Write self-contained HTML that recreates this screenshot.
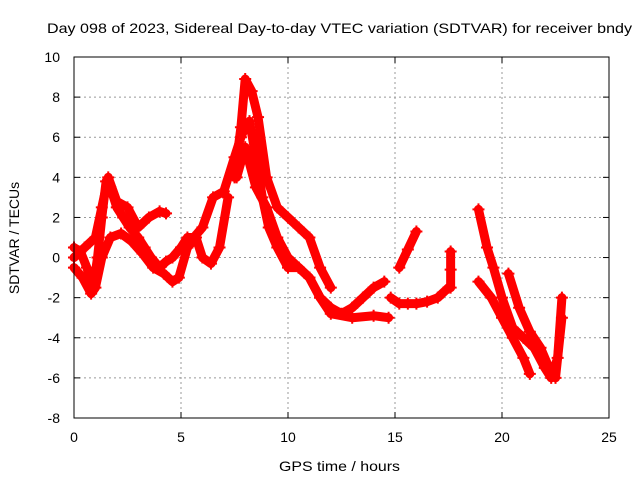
<!DOCTYPE html>
<html><head><meta charset="utf-8"><style>
body{margin:0;background:#fff}
svg{display:block;font-family:"Liberation Sans",sans-serif;font-size:14px}
</style></head><body>
<svg id="c" width="640" height="480">
<text x="47" y="33" textLength="585" lengthAdjust="spacingAndGlyphs">Day 098 of 2023, Sidereal Day-to-day VTEC variation (SDTVAR) for receiver bndy</text>
<text x="279" y="471" textLength="121" lengthAdjust="spacingAndGlyphs">GPS time / hours</text>
<text transform="translate(19,238) rotate(-90)" text-anchor="middle">SDTVAR / TECUs</text>
<g id="grid"></g>
<g id="series"></g>
<rect x="74" y="57" width="535" height="361" fill="none" stroke="#000"/>
</svg>
<script>
const xTicks=[0,5,10,15,20,25];
const yTicks=[-8,-6,-4,-2,0,2,4,6,8,10];
const trackMainX=[0,0.3,0.6,0.9,1.1,1.3,1.5,1.7,2.0,2.3,2.6,3,3.3,3.6,4,4.3,4.6,5,5.3,5.6,6,6.5,7,7.5,7.8,8,8.2,8.5,8.8,9.1,9.5,10,10.5,11,11.5,12,12.5,13,13.5,14,14.5];
const trackMainY=[0.5,0.3,-0.5,-1.5,0,2,3.8,3.5,2.5,2,1.5,1,0.5,0,-0.5,-0.2,0,0.5,1,1,1.5,3,3.3,5,6,6.5,6.8,5,3,1.5,0.5,-0.5,-0.5,-1,-2,-2.5,-2.8,-2.5,-2,-1.5,-1.2];
const trackUpX=[0,0.5,1,1.3,1.6,2,2.5,3,3.5,4,4.3];
const trackUpY=[0,0.5,1,2.5,4,2.8,2.5,1.5,2,2.3,2.2];
const trackLowX=[0,0.4,0.8,1.0,1.3,1.7,2.2,2.7,3.2,3.7,4.2,4.6,4.9,5.3,5.7,6.0,6.4,6.8,7.2];
const trackLowY=[-0.5,-1,-1.8,-1.5,0,1,1.2,0.8,0.2,-0.5,-0.8,-1.2,-1,0.5,1,0,-0.3,0.5,3];
const trackPeakX=[7.5,7.8,8.0,8.3,8.6,9.0,9.5,10.0,10.5,11.0,11.5,12.0];
const trackPeakY=[4,6.5,8.9,8.3,7,4,2.5,2,1.5,1,-0.5,-1.5];
const trackPostX=[7.6,8.0,8.5,9.0,9.5,10.0,10.5,11.0,11.5,12.0,13.0,14.0,14.7];
const trackPostY=[4,5.5,3.5,2.5,1,0,-0.5,-1,-2,-2.8,-3,-2.9,-3];
const trackTailX=[14.8,15.2,15.6,16.0,16.5,17.0,17.5];
const trackTailY=[-2,-2.3,-2.3,-2.3,-2.2,-2,-1.5];
const segAX=[15.2,15.6,16.0];
const segAY=[-0.5,0.4,1.3];
const segBX=[17.6,17.6,17.6];
const segBY=[0.3,-0.6,-1.5];
const trackDX=[18.9,19.3,19.6,20.0,20.5,21.0,21.5,22.0,22.3,22.6,22.8];
const trackDY=[2.4,0.5,-0.5,-2,-3.5,-4,-4.5,-5.5,-6,-5,-2];
const trackEX=[18.9,19.5,20.0,20.5,21.0,21.3];
const trackEY=[-1.2,-2,-3,-4,-5,-5.8];
const trackFX=[20.3,20.8,21.3,21.8,22.2,22.5,22.8];
const trackFY=[-0.8,-2.5,-3.7,-4.5,-5.5,-6,-3];
const tracks=[[trackMainX,trackMainY],[trackUpX,trackUpY],[trackLowX,trackLowY],[trackPeakX,trackPeakY],[trackPostX,trackPostY],[trackTailX,trackTailY],[segAX,segAY],[segBX,segBY],[trackDX,trackDY],[trackEX,trackEY],[trackFX,trackFY]];
const NS='http://www.w3.org/2000/svg';
const X0=74,X1=609,Y0=418,Y1=57;
const sx=v=>X0+(v-0)/25*(X1-X0);
const sy=v=>Y0-(v+8)/18*(Y0-Y1);
const g=document.getElementById('grid');
function mk(t,a,p){const e=document.createElementNS(NS,t);for(const k in a)e.setAttribute(k,a[k]);p.appendChild(e);return e;}
xTicks.forEach(t=>{const x=sx(t);
 if(t>0&&t<25){const l=mk('line',{x1:x,x2:x,y1:Y1,y2:Y0,stroke:'#999','stroke-dasharray':'2,3'},g);}
 mk('line',{x1:x,x2:x,y1:Y0,y2:Y0-6,stroke:'#000'},g);mk('line',{x1:x,x2:x,y1:Y1,y2:Y1+6,stroke:'#000'},g);
 const tx=mk('text',{x:x,y:Y0+24,'text-anchor':'middle'},g);tx.textContent=t;
 });
yTicks.forEach(t=>{const y=sy(t);
 if(t>-8&&t<10){const l=mk('line',{x1:X0,x2:X1,y1:y,y2:y,stroke:'#999','stroke-dasharray':'2,3'},g);}
 mk('line',{x1:X0,x2:X0+6,y1:y,y2:y,stroke:'#000'},g);mk('line',{x1:X1,x2:X1-6,y1:y,y2:y,stroke:'#000'},g);
 const tx=mk('text',{x:X0-14,y:y+5,'text-anchor':'end'},g);tx.textContent=t;
 });
const s=document.getElementById('series');
tracks.forEach(([xs,ys])=>{
 const pts=xs.map((x,i)=>sx(x)+','+sy(ys[i])).join(' ');
 const pl=mk('polyline',{points:pts,fill:'none',stroke:'#f00','stroke-width':9,'stroke-linejoin':'round','stroke-linecap':'round'},s);
 
 
 xs.forEach((x,i)=>{const cx=sx(x),cy=sy(ys[i]);
  const p=mk('path',{d:`M${cx-6},${cy}h12M${cx},${cy-6}v12`,stroke:'#f00','stroke-width':2},s);
  
  });
});
</script>
</body></html>
